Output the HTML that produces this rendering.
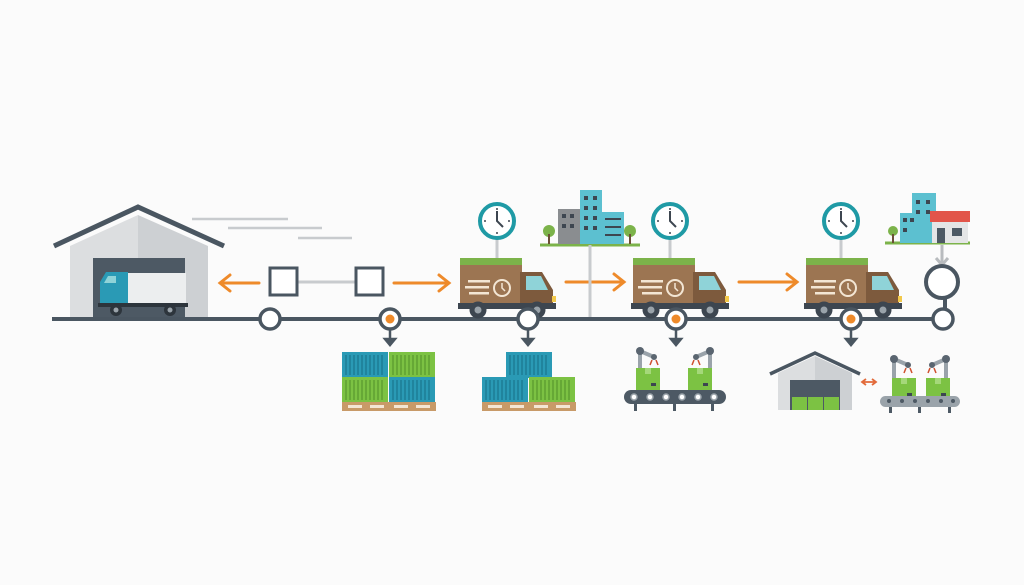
<!DOCTYPE html>
<html><head><style>html,body{margin:0;padding:0;background:#fbfbfb;}svg{display:block}</style></head><body>
<svg width="1024" height="585" viewBox="0 0 1024 585" xmlns="http://www.w3.org/2000/svg">
<defs>
<g id="truck">
 <rect x="0" y="0" width="62" height="8" fill="#7cb34a"/>
 <rect x="0" y="7" width="62" height="40" fill="#9c7552"/>
 <rect x="8" y="22" width="22" height="2.5" fill="#f3e6d4"/>
 <rect x="5" y="28" width="24" height="2.5" fill="#f3e6d4"/>
 <rect x="9" y="34" width="20" height="2.5" fill="#f3e6d4"/>
 <circle cx="42" cy="30" r="8" fill="none" stroke="#f3e6d4" stroke-width="2"/>
 <path d="M42 25v5l3 3" stroke="#f3e6d4" stroke-width="1.5" fill="none"/>
 <path d="M60 14h22l11 18v15h-33z" fill="#7d5a3d"/>
 <path d="M66 18h15l7 14h-22z" fill="#8fd3d8"/>
 <rect x="92" y="38" width="4" height="6" fill="#f2c84b"/>
 <rect x="-2" y="45" width="98" height="6" fill="#3d4650"/>
 <circle cx="18" cy="52" r="8.5" fill="#3d4650"/><circle cx="18" cy="52" r="3.5" fill="#9aa3aa"/>
 <circle cx="77" cy="52" r="8.5" fill="#3d4650"/><circle cx="77" cy="52" r="3.5" fill="#9aa3aa"/>
</g>
<g id="clock">
 <circle r="17" fill="#fff" stroke="#1f9aa5" stroke-width="4"/>
 <path d="M0-10v10l6 6" stroke="#3d4650" stroke-width="2" fill="none"/>
 <g fill="#3d4650"><circle cx="0" cy="-12" r="1"/><circle cx="0" cy="12" r="1"/><circle cx="-12" cy="0" r="1"/><circle cx="12" cy="0" r="1"/></g>
</g>
<g id="cg"><rect width="46" height="26" fill="#7cc243"/><path d="M4 3v20M8 3v20M12 3v20M16 3v20M20 3v20M24 3v20M28 3v20M32 3v20M36 3v20M40 3v20" stroke="#5fa033" stroke-width="1.5"/></g>
<g id="cb"><rect width="46" height="26" fill="#2a9ab5"/><path d="M4 3v20M8 3v20M12 3v20M16 3v20M20 3v20M24 3v20M28 3v20M32 3v20M36 3v20M40 3v20" stroke="#1d7d95" stroke-width="1.5"/></g>
<g id="pallet"><rect width="94" height="9" fill="#c89a68"/><g fill="#f3e6d4"><rect x="6" y="3" width="14" height="3"/><rect x="28" y="3" width="14" height="3"/><rect x="52" y="3" width="14" height="3"/><rect x="74" y="3" width="14" height="3"/></g></g>
<g id="arm">
 <path d="M0 30V6l14 6" stroke="#9aa3aa" stroke-width="4" fill="none"/>
 <circle cx="0" cy="6" r="4" fill="#5a6570"/><circle cx="14" cy="12" r="3" fill="#5a6570"/>
 <path d="M12 15l-2 5M16 15l2 5" stroke="#d0502f" stroke-width="1.5"/>
</g>
<g id="box"><rect width="24" height="22" fill="#7cc243"/><rect x="9" y="0" width="6" height="6" fill="#a5d87a"/><rect x="15" y="15" width="5" height="3" fill="#3d4650"/></g>
</defs>

<!-- speed lines -->
<g stroke="#c8cbce" stroke-width="2.5"><line x1="192" y1="219" x2="288" y2="219"/><line x1="228" y1="228" x2="322" y2="228"/><line x1="298" y1="238" x2="352" y2="238"/></g>

<!-- warehouse -->
<polygon points="70,246 138,215 138,319 70,319" fill="#dcdee0"/>
<polygon points="138,215 208,246 208,319 138,319" fill="#cdd0d3"/>
<polyline points="54,246 138,207 224,246" fill="none" stroke="#4a5661" stroke-width="5"/>
<rect x="93" y="258" width="92" height="61" fill="#4d5964"/>
<rect x="128" y="273" width="58" height="32" fill="#eceeef"/>
<path d="M100 305V282l6-10h22v33z" fill="#2a9ab5"/>
<path d="M104 283l4-7h8v7z" fill="#8fd3d8"/>
<rect x="98" y="303" width="90" height="4" fill="#2d353c"/>
<circle cx="116" cy="310" r="6" fill="#2d353c"/><circle cx="116" cy="310" r="2.5" fill="#9aa3aa"/>
<circle cx="170" cy="310" r="6" fill="#2d353c"/><circle cx="170" cy="310" r="2.5" fill="#9aa3aa"/>

<!-- squares and arrows -->
<line x1="297" y1="282" x2="355" y2="282" stroke="#c8cbce" stroke-width="3"/>
<rect x="270" y="268" width="27" height="27" fill="#fff" stroke="#4a5661" stroke-width="3"/>
<rect x="356" y="268" width="27" height="27" fill="#fff" stroke="#4a5661" stroke-width="3"/>
<g stroke="#ee8a2a" stroke-width="3" fill="none" stroke-linecap="round">
 <path d="M259 283H220M230 275l-10 8 10 8"/>
 <path d="M394 283H449M439 275l10 8-10 8"/>
 <path d="M566 282H624M614 274l10 8-10 8"/>
 <path d="M739 282H797M787 274l10 8-10 8"/>
</g>

<!-- city 1 -->
<line x1="540" y1="245" x2="640" y2="245" stroke="#7cb34a" stroke-width="3"/>
<line x1="590" y1="245" x2="590" y2="319" stroke="#c8cbce" stroke-width="3"/>
<rect x="558" y="209" width="22" height="35" fill="#8a8d90"/>
<rect x="580" y="190" width="22" height="54" fill="#5cc0d0"/>
<rect x="602" y="212" width="22" height="32" fill="#5cc0d0"/>
<g fill="#3d4650"><rect x="562" y="214" width="4" height="4"/><rect x="570" y="214" width="4" height="4"/><rect x="562" y="224" width="4" height="4"/><rect x="570" y="224" width="4" height="4"/><rect x="584" y="196" width="4" height="4"/><rect x="593" y="196" width="4" height="4"/><rect x="584" y="206" width="4" height="4"/><rect x="593" y="206" width="4" height="4"/><rect x="584" y="216" width="4" height="4"/><rect x="593" y="216" width="4" height="4"/><rect x="584" y="226" width="4" height="4"/><rect x="593" y="226" width="4" height="4"/><rect x="605" y="218" width="16" height="2"/><rect x="605" y="226" width="16" height="2"/><rect x="605" y="234" width="16" height="2"/></g>
<circle cx="549" cy="231" r="6" fill="#7cb34a"/><rect x="548" y="234" width="2" height="10" fill="#6b4f36"/>
<circle cx="630" cy="231" r="6" fill="#7cb34a"/><rect x="629" y="234" width="2" height="10" fill="#6b4f36"/>

<!-- city 2 -->
<line x1="885" y1="243" x2="970" y2="243" stroke="#7cb34a" stroke-width="3"/>
<rect x="900" y="213" width="20" height="30" fill="#5cc0d0"/>
<rect x="912" y="193" width="24" height="50" fill="#5cc0d0"/>
<g fill="#3d4650"><rect x="903" y="218" width="4" height="4"/><rect x="910" y="218" width="4" height="4"/><rect x="903" y="228" width="4" height="4"/><rect x="916" y="200" width="4" height="4"/><rect x="926" y="200" width="4" height="4"/><rect x="916" y="210" width="4" height="4"/><rect x="926" y="210" width="4" height="4"/></g>
<rect x="932" y="221" width="36" height="22" fill="#e4e5e6"/>
<rect x="930" y="211" width="40" height="11" fill="#e2554a"/>
<rect x="937" y="228" width="8" height="15" fill="#4d5964"/><rect x="952" y="228" width="10" height="8" fill="#4d5964"/>
<circle cx="893" cy="231" r="5" fill="#7cb34a"/><rect x="892" y="234" width="2" height="9" fill="#6b4f36"/>
<path d="M942 245v18M936 258l6 7 6-7" stroke="#b8bbbe" stroke-width="3" fill="none"/>
<circle cx="942" cy="282" r="16" fill="#fff" stroke="#4a5661" stroke-width="4"/>

<!-- timeline -->
<line x1="52" y1="319" x2="935" y2="319" stroke="#4a5661" stroke-width="4"/>
<line x1="945" y1="298" x2="945" y2="308" stroke="#4a5661" stroke-width="4"/>

<!-- clocks -->
<line x1="497" y1="238" x2="497" y2="258" stroke="#c8cbce" stroke-width="3"/>
<line x1="670" y1="238" x2="670" y2="258" stroke="#c8cbce" stroke-width="3"/>
<line x1="841" y1="238" x2="841" y2="258" stroke="#c8cbce" stroke-width="3"/>
<use href="#clock" x="497" y="221"/>
<use href="#clock" x="670" y="221"/>
<use href="#clock" x="841" y="221"/>

<!-- trucks -->
<use href="#truck" x="460" y="258"/>
<use href="#truck" x="633" y="258"/>
<use href="#truck" x="806" y="258"/>

<!-- timeline circles -->
<g fill="#fff" stroke="#4a5661" stroke-width="3.5">
<circle cx="270" cy="319" r="10"/><circle cx="390" cy="319" r="10"/><circle cx="528" cy="319" r="10"/><circle cx="676" cy="319" r="10"/><circle cx="851" cy="319" r="10"/><circle cx="943" cy="319" r="10"/>
</g>
<g fill="#ee8a2a"><circle cx="390" cy="319" r="4.5"/><circle cx="676" cy="319" r="4.5"/><circle cx="851" cy="319" r="4.5"/></g>

<!-- down arrows -->
<g stroke="#4a5661" stroke-width="2.5" fill="#4a5661">
<line x1="390" y1="330" x2="390" y2="340"/><path d="M385 339h10l-5 6z"/>
<line x1="528" y1="330" x2="528" y2="340"/><path d="M523 339h10l-5 6z"/>
<line x1="676" y1="330" x2="676" y2="340"/><path d="M671 339h10l-5 6z"/>
<line x1="851" y1="330" x2="851" y2="340"/><path d="M846 339h10l-5 6z"/>
</g>

<!-- containers 1 -->
<use href="#cb" x="342" y="352"/><use href="#cg" x="389" y="352"/>
<use href="#cg" x="342" y="377"/><use href="#cb" x="389" y="377"/>
<use href="#pallet" x="342" y="402"/>
<!-- containers 2 -->
<use href="#cb" x="506" y="352"/>
<use href="#cb" x="482" y="377"/><use href="#cg" x="529" y="377"/>
<use href="#pallet" x="482" y="402"/>

<!-- robots 1 -->
<use href="#arm" x="640" y="345"/>
<g transform="translate(710,345) scale(-1,1)"><use href="#arm"/></g>
<use href="#box" x="636" y="368"/><use href="#box" x="688" y="368"/>
<rect x="624" y="390" width="102" height="14" rx="7" fill="#4d5964"/>
<g fill="#fff" stroke="#9aa3aa" stroke-width="1.5"><circle cx="634" cy="397" r="3"/><circle cx="650" cy="397" r="3"/><circle cx="666" cy="397" r="3"/><circle cx="682" cy="397" r="3"/><circle cx="698" cy="397" r="3"/><circle cx="714" cy="397" r="3"/></g>
<g fill="#4d5964"><rect x="634" y="404" width="3" height="7"/><rect x="673" y="404" width="3" height="7"/><rect x="711" y="404" width="3" height="7"/></g>

<!-- small warehouse -->
<polygon points="778,373 815,356 815,410 778,410" fill="#dcdee0"/>
<polygon points="815,356 852,373 852,410 815,410" fill="#cdd0d3"/>
<polyline points="770,374 815,353 860,374" fill="none" stroke="#4a5661" stroke-width="3.5"/>
<rect x="790" y="380" width="50" height="30" fill="#4d5964"/>
<g fill="#7cc243"><rect x="792" y="397" width="15" height="13"/><rect x="808" y="397" width="15" height="13"/><rect x="824" y="397" width="15" height="13"/></g>
<path d="M862 382h14M866 379l-4 3 4 3M872 379l4 3-4 3" stroke="#e26a3a" stroke-width="1.8" fill="none"/>

<!-- robots 2 -->
<use href="#arm" x="894" y="353"/>
<g transform="translate(946,353) scale(-1,1)"><use href="#arm"/></g>
<use href="#box" x="892" y="378"/><use href="#box" x="926" y="378"/>
<rect x="880" y="396" width="80" height="11" rx="5.5" fill="#9aa3aa"/>
<g fill="#4d5964"><circle cx="889" cy="401" r="2"/><circle cx="902" cy="401" r="2"/><circle cx="915" cy="401" r="2"/><circle cx="928" cy="401" r="2"/><circle cx="941" cy="401" r="2"/><circle cx="953" cy="401" r="2"/></g>
<g fill="#4d5964"><rect x="889" y="407" width="3" height="6"/><rect x="918" y="407" width="3" height="6"/><rect x="948" y="407" width="3" height="6"/></g>
</svg>
</body></html>
